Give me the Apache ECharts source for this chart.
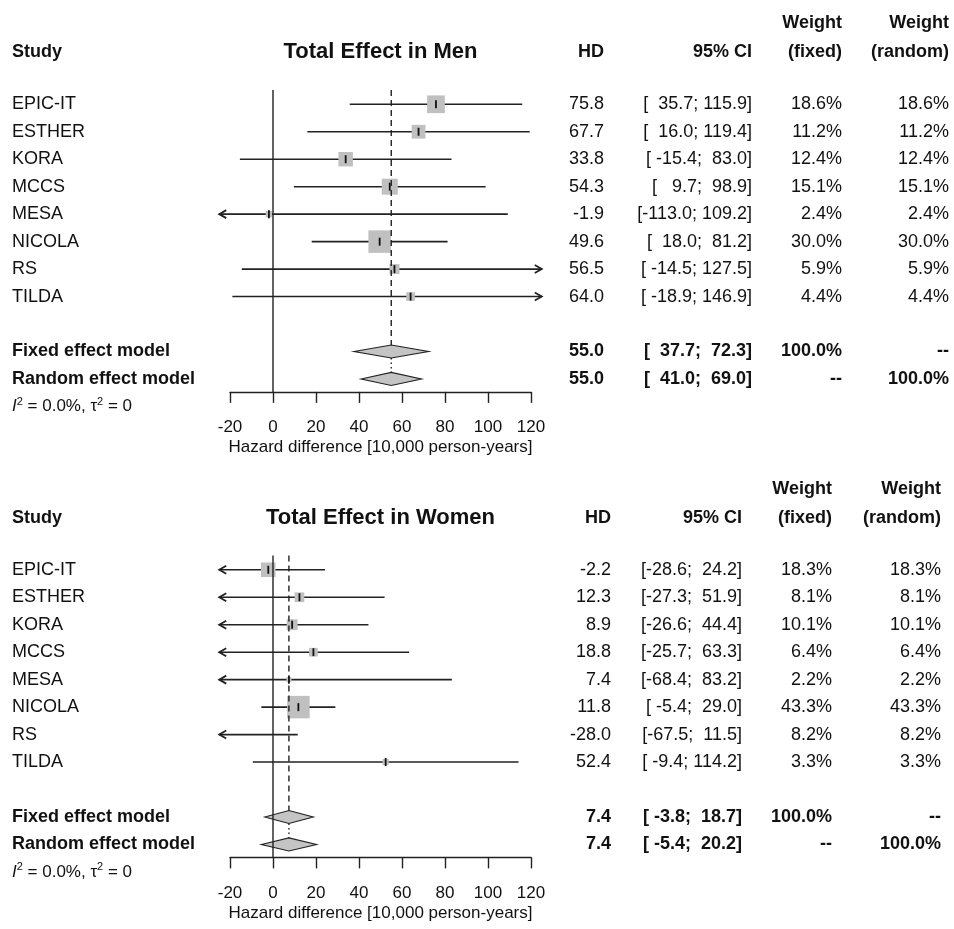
<!DOCTYPE html>
<html><head><meta charset="utf-8">
<script src="https://cdn.jsdelivr.net/npm/echarts@6/dist/echarts.min.js"></script>
<style>html,body{margin:0;padding:0;background:#fff}#c{width:954px;height:929px}</style>
</head><body><div id="c"></div>
<script>
// ---------------- data ----------------
const studies = ['EPIC-IT', 'ESTHER', 'KORA', 'MCCS', 'MESA', 'NICOLA', 'RS', 'TILDA'];

const menHD    = [75.8, 67.7, 33.8, 54.3, -1.9, 49.6, 56.5, 64.0];
const menLower = [35.7, 16.0, -15.4, 9.7, -113.0, 18.0, -14.5, -18.9];
const menUpper = [115.9, 119.4, 83.0, 98.9, 109.2, 81.2, 127.5, 146.9];
const menWeightFixed  = [18.6, 11.2, 12.4, 15.1, 2.4, 30.0, 5.9, 4.4];
const menWeightRandom = [18.6, 11.2, 12.4, 15.1, 2.4, 30.0, 5.9, 4.4];
const menFixed  = [55.0, 37.7, 72.3];   // estimate, lower, upper
const menRandom = [55.0, 41.0, 69.0];

const womenHD    = [-2.2, 12.3, 8.9, 18.8, 7.4, 11.8, -28.0, 52.4];
const womenLower = [-28.6, -27.3, -26.6, -25.7, -68.4, -5.4, -67.5, -9.4];
const womenUpper = [24.2, 51.9, 44.4, 63.3, 83.2, 29.0, 11.5, 114.2];
const womenWeightFixed  = [18.3, 8.1, 10.1, 6.4, 2.2, 43.3, 8.2, 3.3];
const womenWeightRandom = [18.3, 8.1, 10.1, 6.4, 2.2, 43.3, 8.2, 3.3];
const womenFixed  = [7.4, -3.8, 18.7];
const womenRandom = [7.4, -5.4, 20.2];

const hetI2   = [0.0, 0.0];
const hetTau2 = [0, 0];

const panelTitles = ['Total Effect in Men', 'Total Effect in Women'];
const xTicks = { min: -20, max: 120, interval: 20 };
const xLimits = [-25, 125];
const axisTitle = 'Hazard difference [10,000 person-years]';
const modelLabels = ['Fixed effect model', 'Random effect model'];
const totalWeight = '100.0%';
const notApplicable = '--';

// ---------------- layout ----------------
const FONT = '"Liberation Sans", Arial, sans-serif';
const TXT = '#111';
const LINE = '#222';
const ROW_H = 27.47;
const Y_MAX = 11.47;
const HDR1 = -0.9, HDR2 = -1.95, FIXED_ROW = 10, RANDOM_ROW = 11, HET_ROW = 12, REF_TOP = 0.48;
const GRID_LEFT = 230, GRID_W = 301;
const STUDY_X = 12;
const MAX_SQ = 22.5, DIAMOND_H = 6.5;

const panels = [
  { title: panelTitles[0], hd: menHD, lo: menLower, hi: menUpper, wf: menWeightFixed, wr: menWeightRandom,
    fixed: menFixed, random: menRandom, i2: hetI2[0], tau2: hetTau2[0], top: 76.8, cols: [604, 752, 842, 949] },
  { title: panelTitles[1], hd: womenHD, lo: womenLower, hi: womenUpper, wf: womenWeightFixed, wr: womenWeightRandom,
    fixed: womenFixed, random: womenRandom, i2: hetI2[1], tau2: hetTau2[1], top: 542.3, cols: [611, 742, 832, 941] }
];

function pad(s, n) { while (s.length < n) s = ' ' + s; return s; }
function ciStrings(lo, hi) {
  const L = lo.map(v => v.toFixed(1)), U = hi.map(v => v.toFixed(1));
  const wl = Math.max(...L.map(s => s.length)), wu = Math.max(...U.map(s => s.length));
  return L.map((l, i) => '[' + pad(l, wl) + '; ' + pad(U[i], wu) + ']');
}

function buildRows(P) {
  const c = P.cols;
  const ci = ciStrings(P.lo.concat([P.fixed[1], P.random[1]]), P.hi.concat([P.fixed[2], P.random[2]]));
  const rows = [];
  const cell = (x, text, align, bold, size) => ({ x, text, align: align || 'right', bold: !!bold, size: size || 18 });
  rows.push({ row: HDR2, cells: [cell(c[2], 'Weight', 'right', true), cell(c[3], 'Weight', 'right', true)] });
  rows.push({ row: HDR1, cells: [cell(STUDY_X, 'Study', 'left', true), cell('center', P.title, 'center', true, 22),
    cell(c[0], 'HD', 'right', true), cell(c[1], '95% CI', 'right', true),
    cell(c[2], '(fixed)', 'right', true), cell(c[3], '(random)', 'right', true)] });
  studies.forEach((s, i) => rows.push({ row: i + 1, cells: [cell(STUDY_X, s, 'left'), cell(c[0], P.hd[i].toFixed(1)),
    cell(c[1], ci[i]), cell(c[2], P.wf[i].toFixed(1) + '%'), cell(c[3], P.wr[i].toFixed(1) + '%')] }));
  const n = studies.length;
  rows.push({ row: FIXED_ROW, cells: [cell(STUDY_X, modelLabels[0], 'left', true), cell(c[0], P.fixed[0].toFixed(1), 'right', true),
    cell(c[1], ci[n], 'right', true), cell(c[2], totalWeight, 'right', true), cell(c[3], notApplicable, 'right', true)] });
  rows.push({ row: RANDOM_ROW, cells: [cell(STUDY_X, modelLabels[1], 'left', true), cell(c[0], P.random[0].toFixed(1), 'right', true),
    cell(c[1], ci[n + 1], 'right', true), cell(c[2], notApplicable, 'right', true), cell(c[3], totalWeight, 'right', true)] });
  rows.push({ row: HET_ROW, cells: [{ x: STUDY_X, align: 'left', het: true,
    text: '{i|I}{s|2}{n| = ' + P.i2.toFixed(1) + '%, τ}{s|2}{n| = ' + P.tau2 + '}' }] });
  return rows;
}

const option = { animation: false, backgroundColor: '#fff', grid: [], xAxis: [], yAxis: [], series: [] };

panels.forEach((P, p) => {
  option.grid.push({ left: GRID_LEFT, width: GRID_W, top: P.top, height: ROW_H * Y_MAX });
  option.xAxis.push({
    type: 'value', gridIndex: p, min: xTicks.min, max: xTicks.max, interval: xTicks.interval, position: 'bottom',
    axisLine: { show: true, onZero: false, lineStyle: { color: LINE, width: 1.4 } },
    axisTick: { show: true, length: 11, lineStyle: { color: LINE, width: 1.4 } },
    axisLabel: { fontSize: 17, color: TXT, margin: 27, fontFamily: FONT },
    splitLine: { show: false },
    name: axisTitle, nameLocation: 'middle', nameGap: 47,
    nameTextStyle: { fontSize: 17, color: TXT, fontFamily: FONT }
  });
  option.yAxis.push({ type: 'value', gridIndex: p, min: 0, max: Y_MAX, inverse: true, show: false });

  const wmax = Math.max(...P.wf);
  // study CIs and squares
  option.series.push({
    type: 'custom', xAxisIndex: p, yAxisIndex: p, clip: false,
    data: studies.map((s, i) => [P.hd[i], P.lo[i], P.hi[i], P.wf[i], i + 1]),
    encode: { x: 0, y: 4 },
    renderItem: (params, api) => {
      const hd = api.value(0), lo = api.value(1), hi = api.value(2), w = api.value(3), row = api.value(4);
      const y = api.coord([0, row])[1];
      const xl = api.coord([Math.max(lo, xLimits[0]), row])[0];
      const xu = api.coord([Math.min(hi, xLimits[1]), row])[0];
      const ch = [{ type: 'line', shape: { x1: xl, y1: y, x2: xu, y2: y }, style: { stroke: LINE, lineWidth: 1.6 } }];
      if (lo < xLimits[0]) ch.push({ type: 'polyline', shape: { points: [[xl + 7, y - 4], [xl, y], [xl + 7, y + 4]] }, style: { stroke: LINE, lineWidth: 1.8, fill: null } });
      if (hi > xLimits[1]) ch.push({ type: 'polyline', shape: { points: [[xu - 7, y - 4], [xu, y], [xu - 7, y + 4]] }, style: { stroke: LINE, lineWidth: 1.8, fill: null } });
      if (hd >= xLimits[0] && hd <= xLimits[1]) {
        const x = api.coord([hd, row])[0];
        const s = MAX_SQ * Math.sqrt(w / wmax);
        ch.push({ type: 'rect', shape: { x: x - s / 2, y: y - s / 2, width: s, height: s }, style: { fill: '#c0c0c0' } });
        ch.push({ type: 'line', shape: { x1: x, y1: y - 4, x2: x, y2: y + 4 }, style: { stroke: '#111', lineWidth: 1.8 } });
      }
      return { type: 'group', children: ch };
    }
  });
  // diamonds
  option.series.push({
    type: 'custom', xAxisIndex: p, yAxisIndex: p, clip: false,
    data: [[P.fixed[0], P.fixed[1], P.fixed[2], FIXED_ROW], [P.random[0], P.random[1], P.random[2], RANDOM_ROW]],
    encode: { x: 0, y: 3 },
    renderItem: (params, api) => {
      const row = api.value(3);
      const c = api.coord([api.value(0), row]);
      const xl = api.coord([api.value(1), row])[0], xu = api.coord([api.value(2), row])[0];
      return { type: 'polygon', shape: { points: [[xl, c[1]], [c[0], c[1] - DIAMOND_H], [xu, c[1]], [c[0], c[1] + DIAMOND_H]] },
        style: { fill: '#c4c4c4', stroke: LINE, lineWidth: 1.2 } };
    }
  });
  // reference lines
  option.series.push({
    type: 'custom', xAxisIndex: p, yAxisIndex: p, clip: false, z: 5,
    data: [[0, P.fixed[0], P.random[0]]],
    encode: { x: 0 },
    renderItem: (params, api) => {
      const top = api.coord([0, REF_TOP])[1], bot = api.coord([0, Y_MAX])[1];
      const x0 = api.coord([api.value(0), 0])[0];
      const xf = api.coord([api.value(1), 0])[0];
      const xr = api.coord([api.value(2), 0])[0];
      const yf = api.coord([0, FIXED_ROW])[1], yr = api.coord([0, RANDOM_ROW])[1];
      return { type: 'group', children: [
        { type: 'line', shape: { x1: x0, y1: top, x2: x0, y2: bot }, style: { stroke: LINE, lineWidth: 1.4 } },
        { type: 'line', shape: { x1: xf, y1: top, x2: xf, y2: yf - DIAMOND_H }, style: { stroke: LINE, lineWidth: 1.4, lineDash: [6, 4] } },
        { type: 'line', shape: { x1: xr, y1: yf + DIAMOND_H, x2: xr, y2: yr - DIAMOND_H }, style: { stroke: LINE, lineWidth: 1.4, lineDash: [1.5, 3] } }
      ] };
    }
  });
  // table text
  const rows = buildRows(P);
  option.series.push({
    type: 'custom', xAxisIndex: p, yAxisIndex: p, clip: false, silent: true,
    data: rows.map(r => [0, r.row]),
    encode: { x: 0, y: 1 },
    renderItem: (params, api) => {
      const r = rows[params.dataIndex];
      const y = api.coord([0, r.row])[1];
      const cx = api.coord([(xTicks.min + xTicks.max) / 2, 0])[0];
      return { type: 'group', children: r.cells.map(c => {
        const st = { x: c.x === 'center' ? cx : c.x, y, text: c.text, fill: TXT, align: c.align, verticalAlign: 'middle' };
        if (c.het) {
          st.rich = {
            i: { fontStyle: 'italic', fontSize: 17, fontFamily: FONT, fill: TXT, lineHeight: 20 },
            s: { fontSize: 11, fontFamily: FONT, fill: TXT, verticalAlign: 'top', lineHeight: 11 },
            n: { fontSize: 17, fontFamily: FONT, fill: TXT, lineHeight: 20 }
          };
        } else {
          st.font = (c.bold ? 'bold ' : '') + c.size + 'px ' + FONT;
        }
        return { type: 'text', style: st };
      }) };
    }
  });
});

const chart = echarts.init(document.getElementById('c'), null, { renderer: 'canvas' });
chart.setOption(option);
</script></body></html>
